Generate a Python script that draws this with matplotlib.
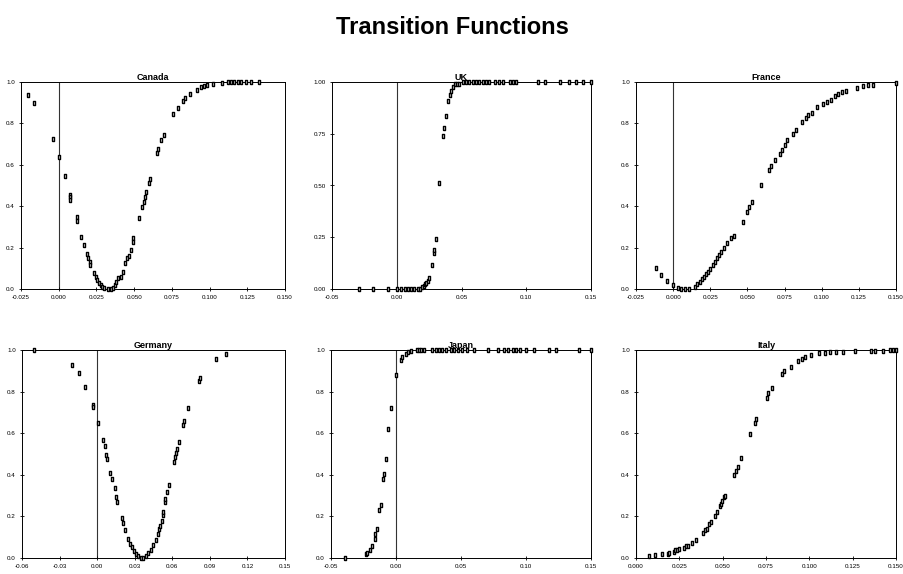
import matplotlib.pyplot as plt
from matplotlib.ticker import FormatStrFormatter

# Canada
canada_x = [-0.0201, -0.0163, -0.0040, 0.0000, 0.0043, 0.0074, 0.0076, 0.0078, 0.0120, 0.0121,
            0.0150, 0.0168, 0.0186, 0.0197, 0.0206, 0.0210, 0.0235, 0.0244, 0.0257, 0.0270,
            0.0280, 0.0290, 0.0300, 0.0325, 0.0347, 0.0358, 0.0370, 0.0383, 0.0396, 0.0410,
            0.0423, 0.0440, 0.0454, 0.0463, 0.0477, 0.0490, 0.0491, 0.0530, 0.0553, 0.0564,
            0.0570, 0.0580, 0.0600, 0.0604, 0.0654, 0.0660, 0.0680, 0.0698, 0.0760, 0.0790,
            0.0824, 0.0840, 0.0868, 0.0918, 0.0945, 0.0962, 0.0985, 0.1020, 0.1085, 0.1120,
            0.1140, 0.1160, 0.1186, 0.1210, 0.1240, 0.1275, 0.1330]
canada_y = [0.939, 0.899, 0.723, 0.640, 0.548, 0.455, 0.445, 0.430, 0.350, 0.330,
            0.252, 0.212, 0.170, 0.148, 0.130, 0.114, 0.075, 0.060, 0.043, 0.027,
            0.019, 0.011, 0.003, 0.000, 0.000, 0.005, 0.019, 0.032, 0.051, 0.060,
            0.084, 0.124, 0.148, 0.159, 0.188, 0.244, 0.228, 0.341, 0.397, 0.421,
            0.445, 0.469, 0.510, 0.530, 0.658, 0.677, 0.719, 0.743, 0.844, 0.876,
            0.908, 0.924, 0.944, 0.963, 0.976, 0.982, 0.984, 0.992, 0.995, 1.000,
            1.000, 1.000, 1.000, 1.000, 1.000, 1.000, 1.000]

# UK
uk_x = [-0.0294, -0.0180, -0.0070, 0.0000, 0.0034, 0.0067, 0.0085, 0.0110, 0.0137, 0.0163,
        0.0180, 0.0196, 0.0207, 0.0217, 0.0227, 0.0238, 0.0248, 0.0274, 0.0287, 0.0290,
        0.0300, 0.0330, 0.0361, 0.0366, 0.0377, 0.0398, 0.0410, 0.0417, 0.0431, 0.0450,
        0.0465, 0.0480, 0.0510, 0.0535, 0.0561, 0.0587, 0.0612, 0.0638, 0.0664, 0.0690,
        0.0716, 0.0755, 0.0793, 0.0819, 0.0871, 0.0897, 0.0923, 0.1091, 0.1142, 0.1259,
        0.1331, 0.1388, 0.1440, 0.1500]
uk_y = [0.000, 0.000, 0.000, 0.000, 0.000, 0.000, 0.000, 0.000, 0.000, 0.000,
        0.000, 0.008, 0.014, 0.022, 0.030, 0.040, 0.051, 0.116, 0.175, 0.188,
        0.241, 0.510, 0.741, 0.780, 0.834, 0.908, 0.936, 0.955, 0.976, 0.989,
        0.989, 0.989, 1.000, 1.000, 1.000, 1.000, 1.000, 1.000, 1.000, 1.000,
        1.000, 1.000, 1.000, 1.000, 1.000, 1.000, 1.000, 1.000, 1.000, 1.000,
        1.000, 1.000, 1.000, 1.000]

# France
france_x = [-0.0117, -0.0079, -0.0040, -0.0004, 0.0036, 0.0050, 0.0080, 0.0110, 0.0148, 0.0160,
            0.0180, 0.0193, 0.0207, 0.0220, 0.0234, 0.0247, 0.0265, 0.0279, 0.0292, 0.0306,
            0.0319, 0.0341, 0.0364, 0.0389, 0.0410, 0.0467, 0.0494, 0.0512, 0.0530, 0.0593,
            0.0647, 0.0656, 0.0687, 0.0719, 0.0732, 0.0752, 0.0768, 0.0809, 0.0827, 0.0865,
            0.0894, 0.0910, 0.0932, 0.0970, 0.1006, 0.1033, 0.1060, 0.1092, 0.1112, 0.1134,
            0.1163, 0.1235, 0.1280, 0.1314, 0.1348, 0.1500]
france_y = [0.100, 0.068, 0.040, 0.019, 0.003, 0.000, 0.000, 0.000, 0.011, 0.024,
            0.035, 0.047, 0.060, 0.072, 0.084, 0.096, 0.116, 0.132, 0.148, 0.164,
            0.180, 0.196, 0.223, 0.244, 0.257, 0.325, 0.373, 0.397, 0.421, 0.502,
            0.577, 0.593, 0.622, 0.651, 0.670, 0.698, 0.719, 0.751, 0.770, 0.807,
            0.828, 0.839, 0.850, 0.879, 0.895, 0.904, 0.912, 0.931, 0.941, 0.951,
            0.956, 0.973, 0.979, 0.984, 0.984, 0.995]

# Germany
germany_x = [-0.0501, -0.0198, -0.0147, -0.0096, -0.0035, -0.0030, 0.0005, 0.0046, 0.0059, 0.0072,
             0.0080, 0.0104, 0.0115, 0.0139, 0.0153, 0.0158, 0.0196, 0.0206, 0.0222, 0.0246,
             0.0263, 0.0276, 0.0295, 0.0308, 0.0330, 0.0348, 0.0367, 0.0388, 0.0407, 0.0429,
             0.0447, 0.0469, 0.0485, 0.0496, 0.0501, 0.0514, 0.0522, 0.0528, 0.0538, 0.0544,
             0.0554, 0.0573, 0.0613, 0.0624, 0.0630, 0.0635, 0.0651, 0.0683, 0.0696, 0.0726,
             0.0812, 0.0823, 0.0946, 0.1031]
germany_y = [1.000, 0.928, 0.888, 0.823, 0.735, 0.724, 0.650, 0.567, 0.538, 0.495,
             0.475, 0.411, 0.379, 0.335, 0.295, 0.270, 0.193, 0.169, 0.133, 0.093,
             0.069, 0.053, 0.034, 0.021, 0.008, 0.002, 0.000, 0.008, 0.024, 0.040,
             0.061, 0.085, 0.117, 0.141, 0.156, 0.180, 0.205, 0.221, 0.270, 0.286,
             0.318, 0.353, 0.462, 0.487, 0.503, 0.522, 0.556, 0.639, 0.660, 0.719,
             0.851, 0.864, 0.955, 0.981]

# Japan
japan_x = [-0.0391, -0.0233, -0.0225, -0.0202, -0.0181, -0.0164, -0.0159, -0.0148, -0.0128, -0.0118,
           -0.0097, -0.0095, -0.0079, -0.0061, -0.0041, 0.0000, 0.0041, 0.0049, 0.0077, 0.0092,
           0.0118, 0.0158, 0.0176, 0.0194, 0.0215, 0.0278, 0.0304, 0.0330, 0.0355, 0.0388,
           0.0424, 0.0450, 0.0475, 0.0508, 0.0547, 0.0603, 0.0706, 0.0782, 0.0833, 0.0859,
           0.0897, 0.0923, 0.0956, 0.1000, 0.1063, 0.1178, 0.1229, 0.1408, 0.1500]
japan_y = [0.000, 0.018, 0.024, 0.040, 0.059, 0.093, 0.114, 0.141, 0.230, 0.254,
           0.382, 0.406, 0.478, 0.621, 0.722, 0.880, 0.952, 0.965, 0.981, 0.992,
           0.995, 1.000, 1.000, 1.000, 1.000, 1.000, 1.000, 1.000, 1.000, 1.000,
           1.000, 1.000, 1.000, 1.000, 1.000, 1.000, 1.000, 1.000, 1.000, 1.000,
           1.000, 1.000, 1.000, 1.000, 1.000, 1.000, 1.000, 1.000, 1.000]

# Italy
italy_x = [0.0077, 0.0110, 0.0148, 0.0183, 0.0188, 0.0219, 0.0227, 0.0238, 0.0250, 0.0277,
           0.0288, 0.0300, 0.0321, 0.0346, 0.0385, 0.0398, 0.0408, 0.0423, 0.0433, 0.0456,
           0.0465, 0.0485, 0.0490, 0.0498, 0.0508, 0.0515, 0.0565, 0.0577, 0.0587, 0.0608,
           0.0658, 0.0687, 0.0692, 0.0754, 0.0763, 0.0787, 0.0840, 0.0856, 0.0894, 0.0937,
           0.0956, 0.0975, 0.1008, 0.1058, 0.1090, 0.1119, 0.1154, 0.1192, 0.1265, 0.1354,
           0.1379, 0.1427, 0.1465, 0.1480, 0.1500]
italy_y = [0.010, 0.013, 0.021, 0.018, 0.026, 0.027, 0.040, 0.037, 0.042, 0.050,
           0.056, 0.058, 0.074, 0.087, 0.122, 0.135, 0.141, 0.162, 0.173, 0.200,
           0.220, 0.250, 0.260, 0.276, 0.294, 0.300, 0.398, 0.419, 0.438, 0.483,
           0.596, 0.647, 0.668, 0.770, 0.791, 0.819, 0.886, 0.899, 0.920, 0.947,
           0.958, 0.968, 0.976, 0.984, 0.984, 0.990, 0.990, 0.990, 0.997, 0.997,
           0.997, 0.997, 1.000, 1.000, 1.000]

panels = [
    ("Canada", canada_x, canada_y, [-0.025, 0.0, 0.025, 0.05, 0.075, 0.1, 0.125, 0.15], [0, 0.2, 0.4, 0.6, 0.8, 1.0], "%.3f", "%.1f"),
    ("UK", uk_x, uk_y, [-0.05, 0.0, 0.05, 0.1, 0.15], [0, 0.25, 0.5, 0.75, 1.0], "%.2f", "%.2f"),
    ("France", france_x, france_y, [-0.025, 0.0, 0.025, 0.05, 0.075, 0.1, 0.125, 0.15], [0, 0.2, 0.4, 0.6, 0.8, 1.0], "%.3f", "%.1f"),
    ("Germany", germany_x, germany_y, [-0.06, -0.03, 0.0, 0.03, 0.06, 0.09, 0.12, 0.15], [0, 0.2, 0.4, 0.6, 0.8, 1.0], "%.2f", "%.1f"),
    ("Japan", japan_x, japan_y, [-0.05, 0.0, 0.05, 0.1, 0.15], [0, 0.2, 0.4, 0.6, 0.8, 1.0], "%.2f", "%.1f"),
    ("Italy", italy_x, italy_y, [0.0, 0.025, 0.05, 0.075, 0.1, 0.125, 0.15], [0, 0.2, 0.4, 0.6, 0.8, 1.0], "%.3f", "%.1f"),
]

W, H = 904, 574
rects = [
    (21, 82, 285, 289), (332, 82, 591, 289), (636, 82, 896, 289),
    (22, 350, 285, 558), (331, 350, 591, 558), (636, 350, 896, 558),
]

plt.rcParams['font.family'] = ['Liberation Sans', 'DejaVu Sans']

fig = plt.figure(figsize=(W / 100, H / 100), dpi=100)
fig.text(0.5, 1 - 27 / H, "Transition Functions", ha="center", va="center",
         fontsize=17, fontweight="bold")

# narrow upright open box, like the original small markers
box = [(-0.45, -1), (0.45, -1), (0.45, 1), (-0.45, 1), (-0.45, -1)]

for (name, xs, ys, xt, yt, xf, yf), (l, t, r, b) in zip(panels, rects):
    ax = fig.add_axes([l / W, 1 - b / H, (r - l) / W, (b - t) / H])
    ax.axvline(0, color="#333333", lw=0.8, zorder=1)
    ax.plot(xs, ys, linestyle="none", marker=box, markersize=3.3,
            markerfacecolor="white", markeredgecolor="black", markeredgewidth=1.0, zorder=3,
            clip_on=False)
    ax.set_xlim(xt[0], xt[-1])
    ax.set_ylim(0, 1)
    ax.set_xticks(xt)
    ax.set_yticks(yt)
    ax.xaxis.set_major_formatter(FormatStrFormatter(xf))
    ax.yaxis.set_major_formatter(FormatStrFormatter(yf))
    ax.tick_params(labelsize=4.5, length=3, width=0.6, direction="inout", pad=3)
    for s in ax.spines.values():
        s.set_linewidth(0.7)
    ax.set_title(name, fontsize=6.5, fontweight="bold", pad=1)

fig.savefig("out.png", dpi=100)
